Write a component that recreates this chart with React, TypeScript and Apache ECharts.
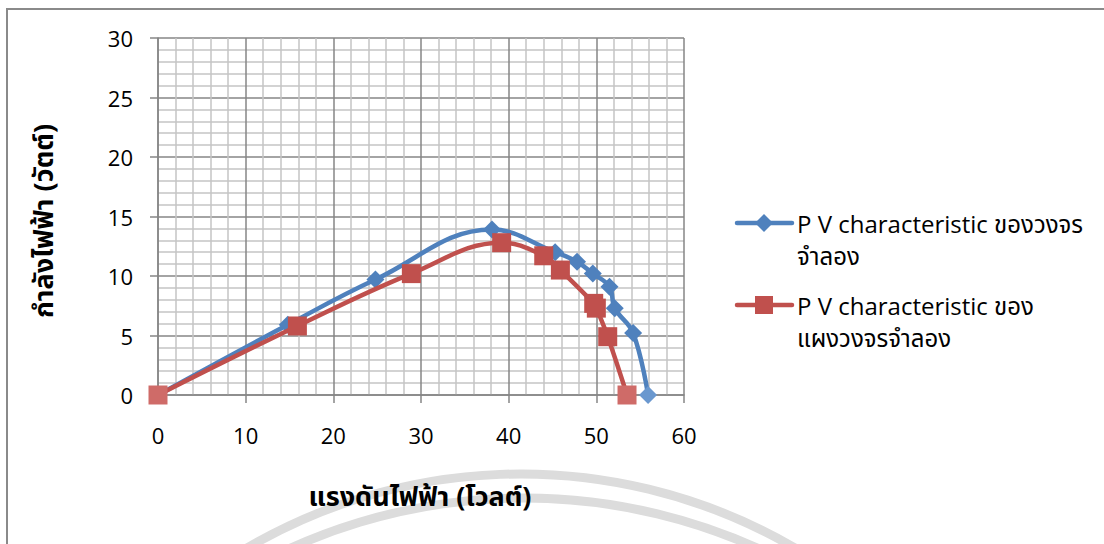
import React, { useEffect, useRef } from "react";
import * as echarts from "echarts";

// Series 1: P V characteristic ของวงจรจำลอง (blue, diamonds)
const blueVoltage = [0, 14.8, 24.8, 38.1, 45.3, 47.8, 49.6, 51.5, 52.1, 54.2, 55.9];
const bluePower = [0, 5.9, 9.7, 13.9, 12.0, 11.2, 10.2, 9.1, 7.3, 5.2, 0];
// Series 2: P V characteristic ของแผงวงจรจำลอง (red, squares)
const redVoltage = [0, 15.9, 28.9, 39.2, 44.0, 45.9, 49.7, 50.0, 51.3, 53.5];
const redPower = [0, 5.8, 10.2, 12.8, 11.7, 10.5, 7.7, 7.3, 4.9, 0];

const blueName = "P V characteristic ของวงจรจำลอง";
const redName = "P V characteristic ของแผงวงจรจำลอง";
const blueLegendLines = ["P V characteristic ของวงจร", "จำลอง"];
const redLegendLines = ["P V characteristic ของ", "แผงวงจรจำลอง"];
const xTitle = "แรงดันไฟฟ้า (โวลต์)";
const yTitle = "กำลังไฟฟ้า (วัตต์)";

const xMin = 0, xMax = 60, xStep = 10;
const yMin = 0, yMax = 30, yStep = 5;

const BLUE = "#4F81BD";
const RED = "#C0504D";
const FONT = "'Open Sans', 'Noto Sans Thai', 'Noto Sans', 'Loma', 'Garuda', 'Tlwg Typo', 'DejaVu Sans', sans-serif";

function pairs(xs: number[], ys: number[], fadeColor: string) {
  return xs.map((x, i) => {
    const item: any = { value: [x, ys[i]] };
    if (ys[i] === 0) item.itemStyle = { color: fadeColor };
    return item;
  });
}

export default function App() {
  const ref = useRef<HTMLDivElement>(null);
  useEffect(() => {
    if (!ref.current) return;
    const chart = echarts.init(ref.current, undefined, { renderer: "svg" });
    const axisGray = "#868686";
    const minorGray = "#c4c4c4";
    const legendItem = (y: number, color: string, symbol: "diamond" | "rect", lines: string[], gap: number) => {
      const els: any[] = [
        { type: "line", shape: { x1: 737, y1: y, x2: 792, y2: y }, style: { stroke: color, lineWidth: 4.5, lineCap: "round" }, z: 10 },
      ];
      if (symbol === "diamond") {
        els.push({ type: "polygon", shape: { points: [[764, y - 9], [773, y], [764, y + 9], [755, y]] }, style: { fill: color }, z: 11 });
      } else {
        els.push({ type: "rect", shape: { x: 755, y: y - 9, width: 18, height: 18 }, style: { fill: color }, z: 11 });
      }
      lines.forEach((t, i) => {
        els.push({
          type: "text", x: 797, y: y + i * gap,
          style: { text: t, font: `24px ${FONT}`, fill: "#000", verticalAlign: "middle", align: "left" }, z: 11,
        });
      });
      return els;
    };

    chart.setOption({
      animation: false,
      backgroundColor: "#ffffff",
      grid: { left: 158, top: 38, width: 526, height: 357, containLabel: false },
      xAxis: {
        type: "value", min: xMin, max: xMax, interval: xStep,
        axisLine: { show: true, onZero: false, lineStyle: { color: axisGray, width: 1.5 } },
        axisTick: { show: true, inside: false, length: 8, lineStyle: { color: axisGray, width: 1.5 } },
        axisLabel: { color: "#000", fontSize: 22, fontFamily: FONT, margin: 29 },
        splitLine: { show: true, lineStyle: { color: axisGray, width: 1.5 } },
        minorTick: { show: false, splitNumber: 5 },
        minorSplitLine: { show: true, lineStyle: { color: minorGray, width: 1.5 } },
      },
      yAxis: {
        type: "value", min: yMin, max: yMax, interval: yStep,
        axisLine: { show: true, onZero: false, lineStyle: { color: axisGray, width: 1.5 } },
        axisTick: { show: true, inside: false, length: 8, lineStyle: { color: axisGray, width: 1.5 } },
        axisLabel: { color: "#000", fontSize: 22, fontFamily: FONT, margin: 25 },
        splitLine: { show: true, lineStyle: { color: axisGray, width: 1.5 } },
        minorTick: { show: false, splitNumber: 5 },
        minorSplitLine: { show: true, lineStyle: { color: minorGray, width: 1.5 } },
      },
      series: [
        {
          name: blueName, type: "line", smooth: 0.4,
          data: pairs(blueVoltage, bluePower, "#6A98CF"),
          symbol: "diamond", symbolSize: [18, 18],
          itemStyle: { color: BLUE }, lineStyle: { color: BLUE, width: 4.5 },
          z: 3,
        },
        {
          name: redName, type: "line", smooth: 0.4,
          data: pairs(redVoltage, redPower, "#CF6B68"),
          symbol: "rect", symbolSize: [19, 19],
          itemStyle: { color: RED }, lineStyle: { color: RED, width: 4.5 },
          z: 4,
        },
      ],
      graphic: [
        { type: "circle", shape: { cx: 521, cy: 1018, r: 544 }, style: { fill: "none", stroke: "#dcdcdc", lineWidth: 9 }, z: -10, silent: true },
        { type: "circle", shape: { cx: 524, cy: 1066, r: 568 }, style: { fill: "none", stroke: "#dcdcdc", lineWidth: 9 }, z: -10, silent: true },
        { type: "rect", shape: { x: 7, y: 9, width: 1300, height: 1000 }, style: { fill: "none", stroke: "#8a8a8a", lineWidth: 2 }, z: 20, silent: true },
        {
          type: "text", x: 42, y: 221, rotation: Math.PI / 2,
          style: { text: yTitle, font: `bold 27px ${FONT}`, fill: "#000", align: "center", verticalAlign: "middle" }, z: 10,
        },
        {
          type: "text", x: 420, y: 495,
          style: { text: xTitle, font: `bold 27px ${FONT}`, fill: "#000", align: "center", verticalAlign: "middle" }, z: 10,
        },
        ...legendItem(223, BLUE, "diamond", blueLegendLines, 32),
        ...legendItem(305, RED, "rect", redLegendLines, 32),
      ],
    });
    return () => chart.dispose();
  }, []);
  return <div ref={ref} style={{ position: "fixed", left: 0, top: 0, width: 1104, height: 544 }} />;
}
